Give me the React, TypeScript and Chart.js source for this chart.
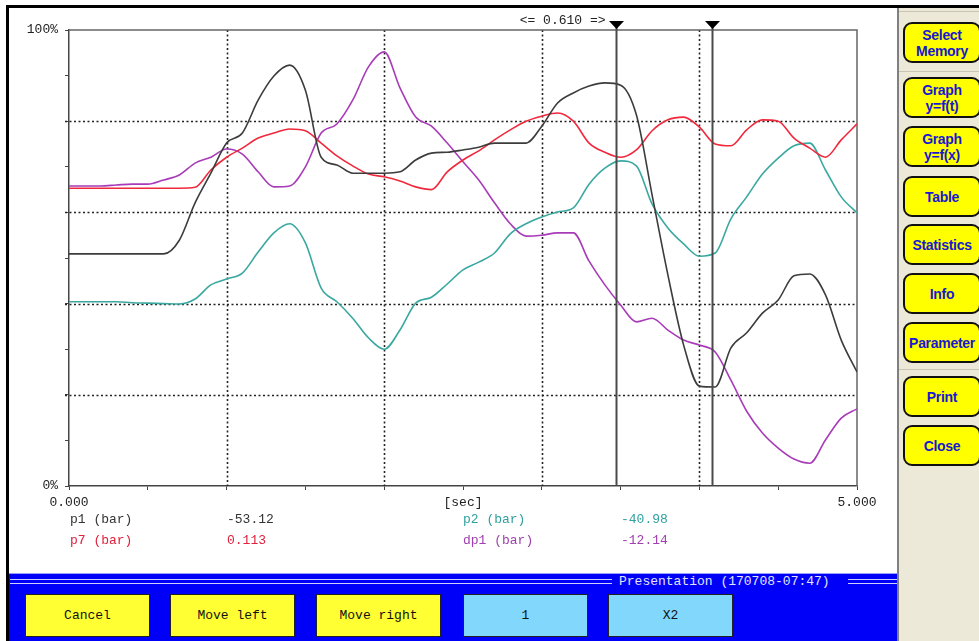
import React, { useEffect, useRef } from "react";
import { Chart, registerables } from "chart.js";

Chart.register(...registerables);

// ---------- data ----------
const TIME = [
  0.0, 0.1, 0.2, 0.3, 0.4, 0.5, 0.6, 0.7, 0.8, 0.9,
  1.0, 1.1, 1.2, 1.3, 1.4, 1.5, 1.6, 1.7, 1.8, 1.9,
  2.0, 2.1, 2.2, 2.3, 2.4, 2.5, 2.6, 2.7, 2.8, 2.9,
  3.0, 3.1, 3.2, 3.3, 3.4, 3.5, 3.6, 3.7, 3.8, 3.9,
  4.0, 4.1, 4.2, 4.3, 4.4, 4.5, 4.6, 4.7, 4.8, 4.9, 5.0,
];

const P1 = [
  50.9, 50.9, 50.9, 50.9, 50.9, 50.9, 50.9, 53.9, 62.1, 68.6,
  75.2, 77.4, 84.6, 89.9, 92.3, 86.8, 72.1, 70.4, 68.6, 68.6,
  68.6, 68.9, 71.5, 73.0, 73.2, 73.7, 74.3, 75.2, 75.2, 75.2,
  78.9, 84.0, 86.2, 87.7, 88.4, 87.9, 81.4, 63.8, 46.3, 30.9,
  21.9, 21.7, 30.3, 33.6, 37.9, 40.8, 46.1, 46.5, 41.9, 32.0, 25.0,
];

const P7 = [
  65.3, 65.3, 65.3, 65.3, 65.3, 65.3, 65.3, 65.3, 65.5, 69.3,
  72.1, 74.1, 76.3, 77.4, 78.3, 77.9, 75.2, 72.4, 70.2, 68.4,
  67.8, 66.9, 65.6, 65.0, 68.9, 71.5, 73.5, 75.9, 78.1, 80.0,
  81.1, 81.8, 80.0, 75.2, 73.2, 72.1, 73.7, 77.9, 80.3, 80.9,
  78.7, 75.0, 74.6, 78.1, 80.3, 80.0, 76.3, 74.1, 72.1, 75.9, 79.4,
];

const P2 = [
  40.4, 40.4, 40.4, 40.4, 40.2, 40.1, 40.0, 39.9, 41.0, 44.1,
  45.4, 46.7, 51.3, 55.5, 57.5, 53.3, 43.4, 40.4, 36.8, 32.5,
  30.0, 34.2, 40.1, 41.4, 44.3, 47.4, 49.1, 51.1, 55.3, 57.5,
  59.0, 60.1, 61.0, 66.2, 69.7, 71.3, 70.2, 61.8, 56.6, 53.1,
  50.4, 51.1, 58.6, 63.4, 68.4, 71.9, 74.6, 75.2, 69.3, 63.4, 59.9,
];

const DP1 = [
  65.8, 65.8, 65.8, 66.0, 66.2, 66.2, 67.1, 68.2, 70.8, 72.1,
  73.9, 72.8, 68.9, 65.6, 65.8, 70.0, 77.4, 79.4, 84.6, 91.9,
  95.2, 87.3, 80.9, 78.9, 75.2, 71.1, 67.1, 62.1, 57.5, 54.8,
  55.0, 55.5, 55.5, 49.3, 44.1, 39.7, 36.0, 36.8, 34.2, 32.0,
  30.9, 29.4, 23.2, 16.4, 11.6, 8.3, 5.9, 5.0, 10.1, 14.9, 16.9,
];

const GRID_X = [1, 2, 3, 4];
const GRID_Y = [20, 40, 60, 80];
const CURSORS = [3.47, 4.08];
const X_LABELS: Record<string, string> = { "0": "0.000", "2.5": "[sec]", "5": "5.000" };
const Y_LABELS: Record<string, string> = { "0": "0%", "100": "100%" };

const SERIES_NAMES = ["p1 (bar)", "p7 (bar)", "p2 (bar)", "dp1 (bar)"];
const SERIES_READINGS = ["-53.12", "0.113", "-40.98", "-12.14"];

const SIDE_BUTTONS = [
  ["Select", "Memory"],
  ["Graph", "y=f(t)"],
  ["Graph", "y=f(x)"],
  ["Table"],
  ["Statistics"],
  ["Info"],
  ["Parameter"],
  ["Print"],
  ["Close"],
];
const BOTTOM_BUTTONS = ["Cancel", "Move left", "Move right", "1", "X2"];
const TITLE = "Presentation (170708-07:47)";

// ---------- styles ----------
const LINE_COLORS = ["#3c3c3c", "#f0283c", "#3aa8a0", "#a83cb8"];
const TEXT_COLORS = ["#333333", "#e0203c", "#30a0a0", "#a040b0"];
const MONO = '"Liberation Mono", "DejaVu Sans Mono", monospace';
const SANS = '"Liberation Sans", Arial, sans-serif';

const SIDE_TOPS = [22, 77, 126, 176, 224, 273, 322, 376, 425];
const BOTTOM_LEFTS = [25, 170, 316, 463, 608];
const BOTTOM_BG = ["#ffff33", "#ffff33", "#ffff33", "#82d8fc", "#82d8fc"];

const overlayPlugin = {
  id: "overlay",
  beforeDatasetsDraw(chart: any) {
    const { ctx, chartArea, scales } = chart;
    const xs = scales.x;
    const ys = scales.y;
    ctx.save();
    ctx.strokeStyle = "#222";
    ctx.lineWidth = 1.6;
    ctx.setLineDash([2, 2.5]);
    GRID_X.forEach((v) => {
      const px = Math.round(xs.getPixelForValue(v)) + 0.5;
      ctx.beginPath();
      ctx.moveTo(px, chartArea.top);
      ctx.lineTo(px, chartArea.bottom);
      ctx.stroke();
    });
    GRID_Y.forEach((v) => {
      const py = Math.round(ys.getPixelForValue(v)) + 0.5;
      ctx.beginPath();
      ctx.moveTo(chartArea.left - 4, py);
      ctx.lineTo(chartArea.right, py);
      ctx.stroke();
    });
    ctx.setLineDash([]);
    ctx.strokeStyle = "#666";
    ctx.lineWidth = 1.5;
    ctx.beginPath();
    ctx.moveTo(chartArea.left, chartArea.top);
    ctx.lineTo(chartArea.right, chartArea.top);
    ctx.lineTo(chartArea.right, chartArea.bottom);
    ctx.stroke();
    ctx.restore();
  },
  afterDatasetsDraw(chart: any) {
    const { ctx, chartArea, scales } = chart;
    const xs = scales.x;
    ctx.save();
    const pxs = CURSORS.map((c) => Math.round(xs.getPixelForValue(c)) + 0.5);
    pxs.forEach((px) => {
      ctx.strokeStyle = "#4a4a4a";
      ctx.lineWidth = 2;
      ctx.beginPath();
      ctx.moveTo(px, chartArea.top - 6);
      ctx.lineTo(px, chartArea.bottom);
      ctx.stroke();
      ctx.fillStyle = "#000";
      ctx.beginPath();
      ctx.moveTo(px - 7.5, chartArea.top - 9);
      ctx.lineTo(px + 7.5, chartArea.top - 9);
      ctx.lineTo(px, chartArea.top - 1);
      ctx.closePath();
      ctx.fill();
    });
    ctx.fillStyle = "#222";
    ctx.font = "13px " + MONO;
    ctx.textAlign = "right";
    ctx.textBaseline = "middle";
    const diff = (CURSORS[1] - CURSORS[0]).toFixed(3);
    ctx.fillText(`<= ${diff} =>`, pxs[0] - 11, chartArea.top - 9);
    ctx.restore();
  },
};

function ChartCanvas() {
  const ref = useRef<HTMLCanvasElement>(null);
  useEffect(() => {
    const names = SERIES_NAMES;
    const series = [P1, P7, P2, DP1];
    const chart = new Chart(ref.current as HTMLCanvasElement, {
      type: "line",
      data: {
        datasets: series.map((arr, i) => ({
          label: names[i],
          data: arr.map((v, k) => ({ x: TIME[k], y: v })),
          borderColor: LINE_COLORS[i],
          borderWidth: 1.6,
          pointRadius: 0,
          fill: false,
          cubicInterpolationMode: "monotone" as const,
        })),
      },
      options: {
        responsive: false,
        animation: false,
        events: [],
        layout: { padding: { left: 0, top: 20, right: 40, bottom: 54 } },
        plugins: { legend: { display: false }, tooltip: { enabled: false }, title: { display: false } },
        scales: {
          x: {
            type: "linear",
            min: 0,
            max: 5,
            afterFit: (s: any) => {
              s.height = 30;
            },
            ticks: {
              stepSize: 0.5,
              autoSkip: false,
              maxRotation: 0,
              minRotation: 0,
              padding: 5,
              color: "#222",
              font: { family: MONO, size: 13 },
              callback: (v: any) => X_LABELS[String(v)] ?? "",
            },
            grid: { drawOnChartArea: false, drawTicks: true, tickLength: 4, tickColor: "#444", color: "#444" },
            border: { display: true, color: "#444", width: 1.5 },
          },
          y: {
            type: "linear",
            min: 0,
            max: 100,
            afterFit: (s: any) => {
              s.width = 59;
            },
            ticks: {
              stepSize: 10,
              autoSkip: false,
              padding: 7,
              color: "#222",
              font: { family: MONO, size: 13 },
              callback: (v: any) => Y_LABELS[String(v)] ?? "",
            },
            grid: { drawOnChartArea: false, drawTicks: true, tickLength: 4, tickColor: "#444", color: "#444" },
            border: { display: true, color: "#444", width: 1.5 },
          },
        },
      },
      plugins: [overlayPlugin],
    } as any);
    return () => chart.destroy();
  }, []);
  return (
    <canvas
      ref={ref}
      width={887}
      height={560}
      style={{ position: "absolute", left: 10, top: 10, width: 887, height: 560 }}
    />
  );
}

export default function App() {
  return (
    <div
      style={{
        position: "fixed",
        left: 0,
        top: 0,
        width: 979,
        height: 641,
        background: "#fff",
        overflow: "hidden",
        fontFamily: MONO,
      }}
    >
      {/* outer black frame */}
      <div style={{ position: "absolute", left: 6, top: 5, width: 973, height: 3, background: "#000" }} />
      <div style={{ position: "absolute", left: 6, top: 5, width: 3, height: 636, background: "#000" }} />

      <ChartCanvas />

      {/* readings */}
      {SERIES_NAMES.map((n, i) => {
        const col = i < 2 ? 0 : 1;
        const row = i % 2;
        return (
          <React.Fragment key={n}>
            <div
              style={{
                position: "absolute",
                left: col === 0 ? 70 : 463,
                top: 512 + row * 21,
                fontSize: 13,
                lineHeight: "16px",
                color: TEXT_COLORS[i],
                whiteSpace: "pre",
              }}
            >
              {n}
            </div>
            <div
              style={{
                position: "absolute",
                left: col === 0 ? 227 : 621,
                top: 512 + row * 21,
                fontSize: 13,
                lineHeight: "16px",
                color: TEXT_COLORS[i],
                whiteSpace: "pre",
              }}
            >
              {SERIES_READINGS[i]}
            </div>
          </React.Fragment>
        );
      })}

      {/* bottom blue bar */}
      <div style={{ position: "absolute", left: 9, top: 573, width: 888, height: 68, background: "#0000f8" }}>
        <div style={{ position: "absolute", left: 0, top: 0, width: 888, height: 1, background: "#9c9cff" }} />
        <div style={{ position: "absolute", left: 1, top: 6, width: 602, height: 1, background: "#d0d0ff" }} />
        <div style={{ position: "absolute", left: 1, top: 10, width: 602, height: 1, background: "#d0d0ff" }} />
        <div style={{ position: "absolute", left: 839, top: 6, width: 49, height: 1, background: "#d0d0ff" }} />
        <div style={{ position: "absolute", left: 839, top: 10, width: 49, height: 1, background: "#d0d0ff" }} />
        <div
          style={{
            position: "absolute",
            left: 610,
            top: 1,
            fontSize: 13,
            lineHeight: "16px",
            color: "#e4e4ff",
            whiteSpace: "pre",
          }}
        >
          {TITLE}
        </div>
      </div>
      {BOTTOM_BUTTONS.map((b, i) => (
        <div
          key={b}
          style={{
            position: "absolute",
            left: BOTTOM_LEFTS[i],
            top: 594,
            width: 123,
            height: 41,
            background: BOTTOM_BG[i],
            border: "1px solid #222",
            display: "flex",
            alignItems: "center",
            justifyContent: "center",
            fontSize: 13,
            color: "#111",
            whiteSpace: "pre",
          }}
        >
          {b}
        </div>
      ))}

      {/* right panel */}
      <div
        style={{
          position: "absolute",
          left: 897,
          top: 8,
          width: 82,
          height: 633,
          background: "#ece9d8",
          borderLeft: "2px solid #808080",
          boxSizing: "border-box",
        }}
      >
        <div style={{ position: "absolute", left: 0, top: 3, width: 82, height: 1, background: "#c9c5b2" }} />
        <div style={{ position: "absolute", left: 0, top: 63, width: 82, height: 1, background: "#c9c5b2" }} />
        <div style={{ position: "absolute", left: 0, top: 361, width: 82, height: 1, background: "#c9c5b2" }} />
      </div>
      {SIDE_BUTTONS.map((lines, i) => (
        <div
          key={lines.join(" ")}
          style={{
            position: "absolute",
            left: 903,
            top: SIDE_TOPS[i],
            width: 78,
            height: 41,
            boxSizing: "border-box",
            background: "#ffff00",
            border: "2px solid #111",
            borderRadius: 9,
            display: "flex",
            flexDirection: "column",
            alignItems: "center",
            justifyContent: "center",
            fontFamily: SANS,
            fontWeight: "bold",
            fontSize: 14,
            lineHeight: "16px",
            color: "#1818d0",
            textAlign: "center",
            letterSpacing: "-0.3px",
          }}
        >
          {lines.map((l) => (
            <div key={l}>{l}</div>
          ))}
        </div>
      ))}
    </div>
  );
}
